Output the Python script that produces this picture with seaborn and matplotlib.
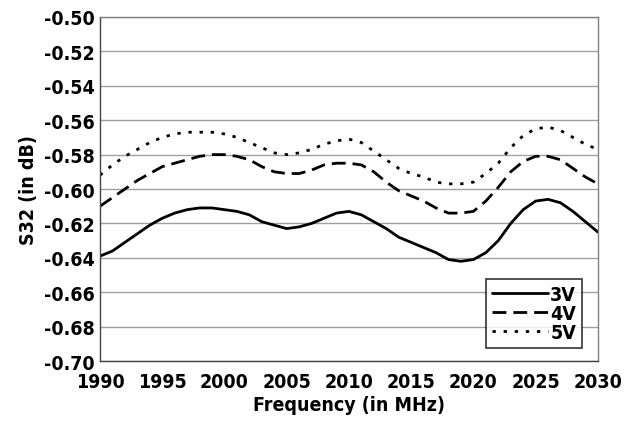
import numpy as np
import pandas as pd
import matplotlib
matplotlib.use("Agg")
import matplotlib.pyplot as plt
import seaborn as sns

# Frequency points (MHz) and S32 readings (dB) for each bias voltage
freq = list(range(1990, 2031))

s32_3v = [-0.639, -0.636, -0.631, -0.626, -0.621, -0.617, -0.614, -0.612, -0.611, -0.611,
          -0.612, -0.613, -0.615, -0.619, -0.621, -0.623, -0.622, -0.620, -0.617, -0.614,
          -0.613, -0.615, -0.619, -0.623, -0.628, -0.631, -0.634, -0.637, -0.641, -0.642,
          -0.641, -0.637, -0.630, -0.620, -0.612, -0.607, -0.606, -0.608, -0.613, -0.619,
          -0.625]
s32_4v = [-0.610, -0.605, -0.600, -0.595, -0.591, -0.587, -0.585, -0.583, -0.581, -0.580,
          -0.580, -0.581, -0.583, -0.587, -0.590, -0.591, -0.591, -0.589, -0.586, -0.585,
          -0.585, -0.586, -0.590, -0.596, -0.601, -0.604, -0.607, -0.611, -0.614, -0.614,
          -0.613, -0.607, -0.599, -0.590, -0.584, -0.581, -0.581, -0.583, -0.588, -0.593,
          -0.597]
s32_5v = [-0.592, -0.586, -0.581, -0.577, -0.573, -0.570, -0.568, -0.567, -0.567, -0.567,
          -0.568, -0.570, -0.573, -0.576, -0.579, -0.580, -0.579, -0.577, -0.574, -0.572,
          -0.571, -0.573, -0.578, -0.583, -0.588, -0.591, -0.593, -0.596, -0.597, -0.597,
          -0.596, -0.591, -0.585, -0.576, -0.569, -0.565, -0.564, -0.566, -0.570, -0.574,
          -0.577]

series_names = ["3V", "4V", "5V"]
x_ticks = list(range(1990, 2031, 5))
y_ticks = np.round(np.arange(-0.70, -0.499, 0.02), 2)

df = pd.DataFrame({
    "freq": freq * 3,
    "s32": s32_3v + s32_4v + s32_5v,
    "volt": sum([[n] * len(freq) for n in series_names], []),
})

sns.set_style("white")
plt.rcParams["font.family"] = ["DejaVu Sans"]
plt.rcParams["font.stretch"] = "condensed"
plt.rcParams["font.weight"] = "bold"
plt.rcParams["text.color"] = "black"
plt.rcParams["xtick.color"] = "black"
plt.rcParams["ytick.color"] = "black"
plt.rcParams["axes.labelcolor"] = "black"

fig = plt.figure(figsize=(6.27, 4.27), dpi=100)
ax = fig.add_axes([0.1595, 0.152, 0.794, 0.806])

dash_styles = {"3V": "", "4V": (5, 2.5), "5V": (1.2, 2.8)}
sns.lineplot(data=df, x="freq", y="s32", hue="volt", style="volt",
             palette=["black"] * 3, dashes=dash_styles, linewidth=2,
             ax=ax, legend=False)

ax.set_xlim(1990, 2030)
ax.set_ylim(-0.70, -0.50)
ax.set_xticks(x_ticks)
ax.set_yticks(y_ticks)
ax.set_yticklabels([f"{v:.2f}" for v in y_ticks])
ax.yaxis.grid(True, color="#a0a0a0", linewidth=1)
ax.tick_params(axis="x", direction="out", length=4, width=1, color="#555555",
               labelsize=14, pad=4)
ax.tick_params(axis="y", length=0, labelsize=14, pad=4)
for s in ax.spines.values():
    s.set_color("#808080")
    s.set_linewidth(1)
ax.spines["left"].set_color("#444444")
ax.spines["bottom"].set_color("#444444")

ax.set_xlabel("Frequency (in MHz)", fontsize=14, fontweight="bold", labelpad=3)
ax.set_ylabel("S32 (in dB)", fontsize=14, fontweight="bold", labelpad=4)

handles = ax.get_lines()[:3]
leg = ax.legend(handles, series_names, loc="lower right", bbox_to_anchor=(0.968, 0.038),
                borderaxespad=0, fontsize=14, frameon=True, fancybox=False,
                handlelength=2.9, handletextpad=0.1, labelspacing=0.0, borderpad=0.3)
leg.get_frame().set_edgecolor("black")
leg.get_frame().set_linewidth(1.2)
for t in leg.get_texts():
    t.set_fontweight("bold")

fig.savefig("out.png", dpi=100)
